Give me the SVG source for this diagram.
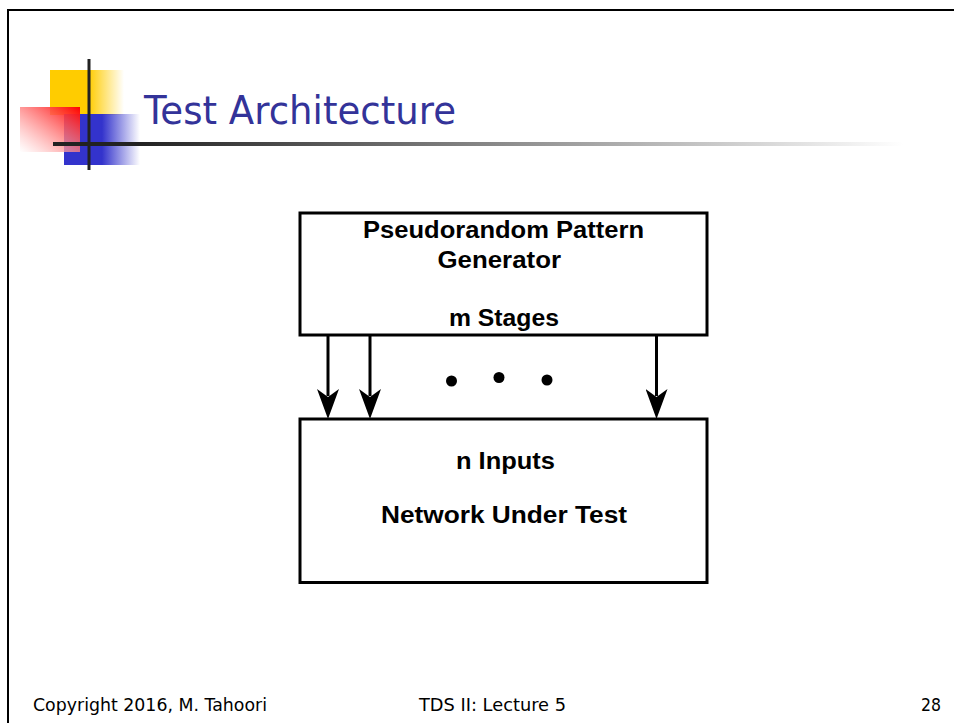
<svg xmlns="http://www.w3.org/2000/svg" width="954" height="723" viewBox="0 0 954 723">
<defs>
<linearGradient id="gy" x1="0" y1="0" x2="1" y2="0">
<stop offset="0" stop-color="#FFCC00"/><stop offset="0.52" stop-color="#FFCC00"/><stop offset="1" stop-color="#FFCC00" stop-opacity="0"/>
</linearGradient>
<linearGradient id="gb" x1="0" y1="0" x2="1" y2="0">
<stop offset="0" stop-color="#3333CC"/><stop offset="0.5" stop-color="#3333CC"/><stop offset="1" stop-color="#3333CC" stop-opacity="0"/>
</linearGradient>
<linearGradient id="gr" x1="1" y1="0" x2="0" y2="1">
<stop offset="0" stop-color="#FF0000"/><stop offset="1" stop-color="#FFFFFF" stop-opacity="0.6"/>
</linearGradient>
<linearGradient id="gl" x1="0" y1="0" x2="1" y2="0">
<stop offset="0" stop-color="#222222"/><stop offset="0.1" stop-color="#222222"/><stop offset="1" stop-color="#FFFFFF"/>
</linearGradient>
<marker id="ah" viewBox="0 0 30 22" refX="7" refY="11" markerWidth="30" markerHeight="22" markerUnits="userSpaceOnUse" orient="auto">
<path d="M0,0 L30,11 L0,22 L8,11 Z" fill="#000"/>
</marker>
</defs>
<style>
.box{fill:#fff;stroke:#000;stroke-width:3}
.lbl{font-family:"Liberation Sans",Arial,sans-serif;font-weight:bold;font-size:23px;fill:#000}
.foot{font-family:"DejaVu Sans",Tahoma,sans-serif;font-size:17px;fill:#000}
.conn{stroke:#000;stroke-width:3;fill:none}
</style>
<rect width="954" height="723" fill="#fff"/>
<g id="frame">
<path d="M8,723 L8,10 L954,10" fill="none" stroke="#000" stroke-width="2"/>
</g>
<g id="logo">
<rect x="50" y="70" width="74" height="45" fill="url(#gy)"/>
<rect x="64" y="114" width="76" height="51" fill="url(#gb)"/>
<rect x="20" y="107" width="60" height="45" fill="url(#gr)"/>
<rect x="53" y="142" width="850" height="4" fill="url(#gl)"/>
<rect x="87.5" y="59" width="3" height="111" fill="#222"/>
</g>
<g id="title">
<text x="144" y="124" font-family="'DejaVu Sans',Tahoma,sans-serif" font-size="39" fill="#333399" textLength="312" lengthAdjust="spacingAndGlyphs">Test Architecture</text>
</g>
<g id="generator">
<rect class="box" x="300" y="213" width="407" height="122"/>
<text class="lbl" x="363" y="237.5" textLength="281" lengthAdjust="spacingAndGlyphs">Pseudorandom Pattern</text>
<text class="lbl" x="437.5" y="267.5" textLength="123.5" lengthAdjust="spacingAndGlyphs">Generator</text>
<text class="lbl" x="449" y="326" textLength="110" lengthAdjust="spacingAndGlyphs">m Stages</text>
</g>
<g id="network">
<rect class="box" x="300" y="419" width="407" height="163.5"/>
<text class="lbl" x="456" y="469" textLength="99" lengthAdjust="spacingAndGlyphs">n Inputs</text>
<text class="lbl" x="381" y="522.5" textLength="246" lengthAdjust="spacingAndGlyphs">Network Under Test</text>
</g>
<g id="connectors">
<line class="conn" x1="328" y1="335" x2="328" y2="396" marker-end="url(#ah)"/>
<line class="conn" x1="370" y1="335" x2="370" y2="396" marker-end="url(#ah)"/>
<line class="conn" x1="656.5" y1="335" x2="656.5" y2="396" marker-end="url(#ah)"/>
</g>
<g id="dots">
<circle cx="451.5" cy="381" r="5.5" fill="#000"/>
<circle cx="499" cy="377.5" r="5.5" fill="#000"/>
<circle cx="547" cy="380" r="5.5" fill="#000"/>
</g>
<g id="footer">
<text class="foot" x="33" y="711" textLength="234" lengthAdjust="spacingAndGlyphs">Copyright 2016, M. Tahoori</text>
<text class="foot" x="419" y="711" textLength="147" lengthAdjust="spacingAndGlyphs">TDS II: Lecture 5</text>
<text class="foot" x="921" y="711" textLength="20" lengthAdjust="spacingAndGlyphs">28</text>
</g>
</svg>
